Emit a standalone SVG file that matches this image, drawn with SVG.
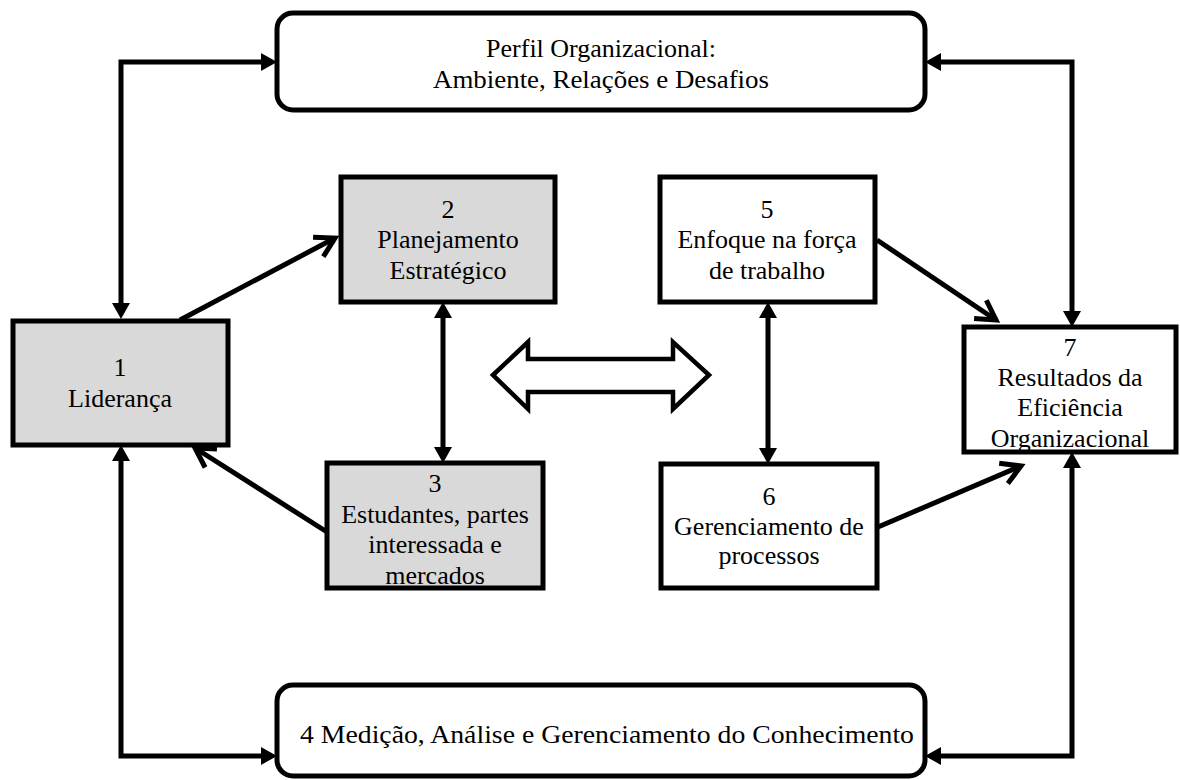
<svg xmlns="http://www.w3.org/2000/svg" width="1180" height="780" viewBox="0 0 1180 780">
  <style>
    .box { stroke: #000; stroke-width: 5; stroke-linejoin: miter; }
    .grey { fill: #d9d9d9; }
    .white { fill: #fff; }
    .frame { fill: none; stroke: #000; stroke-width: 5; }
    .lbl { font-family: "Liberation Serif", "Times New Roman", serif; font-size: 26px; fill: #000; text-anchor: middle; }
    .link { fill: none; stroke: #000; stroke-width: 5; stroke-linejoin: miter; }
    .both { marker-start: url(#head); marker-end: url(#head); }
    .open { marker-end: url(#chevron); }
  </style>
  <defs>
    <!-- solid triangular head; path ends at the base, tip sits 16px beyond -->
    <marker id="head" markerUnits="userSpaceOnUse" viewBox="0 0 16 18" refX="0" refY="9" markerWidth="16" markerHeight="18" orient="auto-start-reverse">
      <path d="M0,0 L16,9 L0,18 z" fill="#000"/>
    </marker>
    <!-- open chevron head for the diagonal flows -->
    <marker id="chevron" markerUnits="userSpaceOnUse" viewBox="-24 -16 28 32" refX="0" refY="0" markerWidth="28" markerHeight="32" orient="auto" overflow="visible">
      <path d="M-19,-11 L0,0 L-19,11" fill="none" stroke="#000" stroke-width="5" stroke-linejoin="miter"/>
    </marker>
  </defs>

  <rect width="1180" height="780" fill="#fff"/>

  <!-- connectors -->
  <g id="connectors">
    <path class="link both" d="M121,303 L121,62 L261,62"/>
    <path class="link both" d="M941,62 L1072,62 L1072,311"/>
    <path class="link both" d="M121,461 L121,756 L261,756"/>
    <path class="link both" d="M1072,468 L1072,756 L941,756"/>
    <path class="link both" d="M443,318 L443,447"/>
    <path class="link both" d="M768,318 L768,448"/>
    <path class="link open" d="M180,320 L335,238"/>
    <path class="link open" d="M327,532 L195,448"/>
    <path class="link open" d="M877,240 L996,320"/>
    <path class="link open" d="M878,527 L1021,466"/>
    <!-- hollow two-way arrow between the two groups -->
    <polygon points="493,375 528,342 528,359 673,359 673,342 709,375 673,409 673,392 528,392 528,409" fill="#fff" stroke="#000" stroke-width="4.5" stroke-linejoin="miter"/>
  </g>

  <g id="perfil">
    <rect class="box white" x="277" y="13" width="648" height="97" rx="16"/>
    <text class="lbl" x="601" y="57">Perfil Organizacional:</text>
    <text class="lbl" x="601" y="88" textLength="336" lengthAdjust="spacingAndGlyphs">Ambiente, Relações e Desafios</text>
  </g>

  <g id="n1">
    <rect class="box grey" x="13" y="321" width="215" height="124"/>
    <text class="lbl" x="120" y="376">1</text>
    <text class="lbl" x="120" y="407">Liderança</text>
  </g>

  <g id="n2">
    <rect class="box grey" x="341" y="177" width="214" height="125"/>
    <text class="lbl" x="448" y="218">2</text>
    <text class="lbl" x="448" y="248">Planejamento</text>
    <text class="lbl" x="448" y="279">Estratégico</text>
  </g>

  <g id="n3">
    <rect class="grey" x="327" y="463" width="216" height="125"/>
    <text class="lbl" x="435" y="492">3</text>
    <text class="lbl" x="435" y="523">Estudantes, partes</text>
    <text class="lbl" x="435" y="553">interessada e</text>
    <text class="lbl" x="435" y="584">mercados</text>
    <rect class="frame" x="327" y="463" width="216" height="125"/>
  </g>

  <g id="n5">
    <rect class="box white" x="660" y="177" width="215" height="125"/>
    <text class="lbl" x="767" y="218">5</text>
    <text class="lbl" x="767" y="248">Enfoque na força</text>
    <text class="lbl" x="767" y="279">de trabalho</text>
  </g>

  <g id="n6">
    <rect class="box white" x="661" y="464" width="216" height="124"/>
    <text class="lbl" x="769" y="505">6</text>
    <text class="lbl" x="769" y="535">Gerenciamento de</text>
    <text class="lbl" x="769" y="564">processos</text>
  </g>

  <g id="n7">
    <rect class="white" x="964" y="327" width="212" height="125"/>
    <text class="lbl" x="1070" y="356">7</text>
    <text class="lbl" x="1070" y="386">Resultados da</text>
    <text class="lbl" x="1070" y="416">Eficiência</text>
    <text class="lbl" x="1070" y="447">Organizacional</text>
    <rect class="frame" x="964" y="327" width="212" height="125"/>
  </g>

  <g id="n4">
    <rect class="box white" x="277" y="685" width="648" height="91" rx="16"/>
    <text class="lbl" x="607" y="743" textLength="614" lengthAdjust="spacingAndGlyphs">4 Medição, Análise e Gerenciamento do Conhecimento</text>
  </g>
</svg>
